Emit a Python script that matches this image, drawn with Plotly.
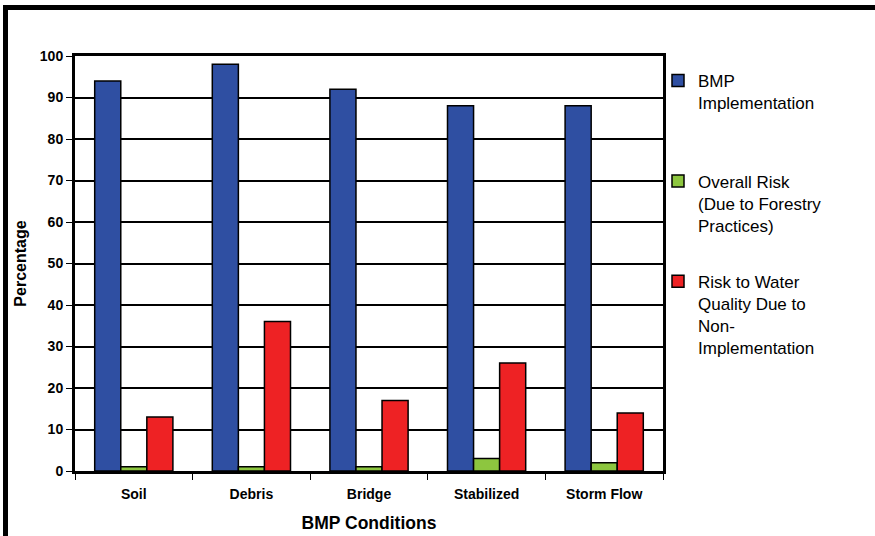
import plotly.graph_objects as go

categories = ["Soil", "Debris", "Bridge", "Stabilized", "Storm Flow"]
bmp_implementation = [94, 98, 92, 88, 88]
overall_risk = [1, 1, 1, 3, 2]
risk_water_quality = [13, 36, 17, 26, 14]

series_names = [
    "BMP<br>Implementation<br>\u00a0<br>\u00a0",
    "Overall Risk<br>(Due to Forestry<br>Practices)<br>\u00a0",
    "Risk to Water<br>Quality Due to<br>Non-<br>Implementation",
]
series_colors = ["#2F4FA2", "#8DC63F", "#EE2224"]
y_ticks = list(range(0, 101, 10))

W, H = 875, 536
ml, mr, mt, mb = 75, 212, 56, 65
pw, ph = W - ml - mr, H - mt - mb

FONT = "Liberation Sans, Arial, sans-serif"

fig = go.Figure()
for i, (name, vals, col) in enumerate(zip(series_names, [bmp_implementation, overall_risk, risk_water_quality], series_colors)):
    fig.add_trace(go.Bar(
        x=categories, y=vals, name=name, legendgroup="g%d" % i,
        marker=dict(color=col, line=dict(color="black", width=1.5)),
    ))

def px_x(p):
    return (p - ml) / pw

def px_y(p):
    return 1 - (p - mt) / ph

fig.update_layout(
    width=W, height=H,
    margin=dict(l=ml, r=mr, t=mt, b=mb, autoexpand=False),
    paper_bgcolor="white", plot_bgcolor="white",
    barmode="group", bargap=0.335, bargroupgap=0,
    font=dict(family=FONT, color="black"),
    xaxis=dict(
        type="category", automargin=False,
        showline=True, linecolor="black", linewidth=3, mirror=True,
        ticks="outside", tickson="boundaries", ticklen=6, tickwidth=1, tickcolor="black",
        tickfont=dict(size=14, family=FONT, color="black", weight="bold"),
        ticklabelstandoff=8,
        title=dict(text="<b>BMP Conditions</b>", font=dict(size=17.5), standoff=16),
        showgrid=False,
    ),
    yaxis=dict(
        range=[0, 100], tickvals=y_ticks, automargin=False,
        showline=True, linecolor="black", linewidth=3, mirror=True,
        ticks="outside", ticklen=6, tickwidth=1, tickcolor="black",
        tickfont=dict(size=14, family=FONT, color="black", weight="bold"),
        showgrid=True, gridcolor="black", gridwidth=1.6,
        zeroline=False,
        title=dict(text="<b>Percentage</b>", font=dict(size=16), standoff=10),
    ),
    legend=dict(
        x=px_x(658), y=px_y(63), xanchor="left", yanchor="top",
        font=dict(size=17, family=FONT),
        valign="top", tracegroupgap=9, bgcolor="rgba(0,0,0,0)",
        traceorder="grouped",
    ),
    shapes=[
        dict(type="line", xref="paper", yref="paper",
             x0=px_x(3), x1=px_x(880), y0=px_y(7.5), y1=px_y(7.5),
             line=dict(color="black", width=5)),
        dict(type="line", xref="paper", yref="paper",
             x0=px_x(5.5), x1=px_x(5.5), y0=px_y(5), y1=px_y(540),
             line=dict(color="black", width=5)),
    ],
)

fig.write_html(
    "out.html",
    config={"displayModeBar": False},
    post_script="document.body.style.margin='0px';document.body.style.overflow='hidden';",
)
